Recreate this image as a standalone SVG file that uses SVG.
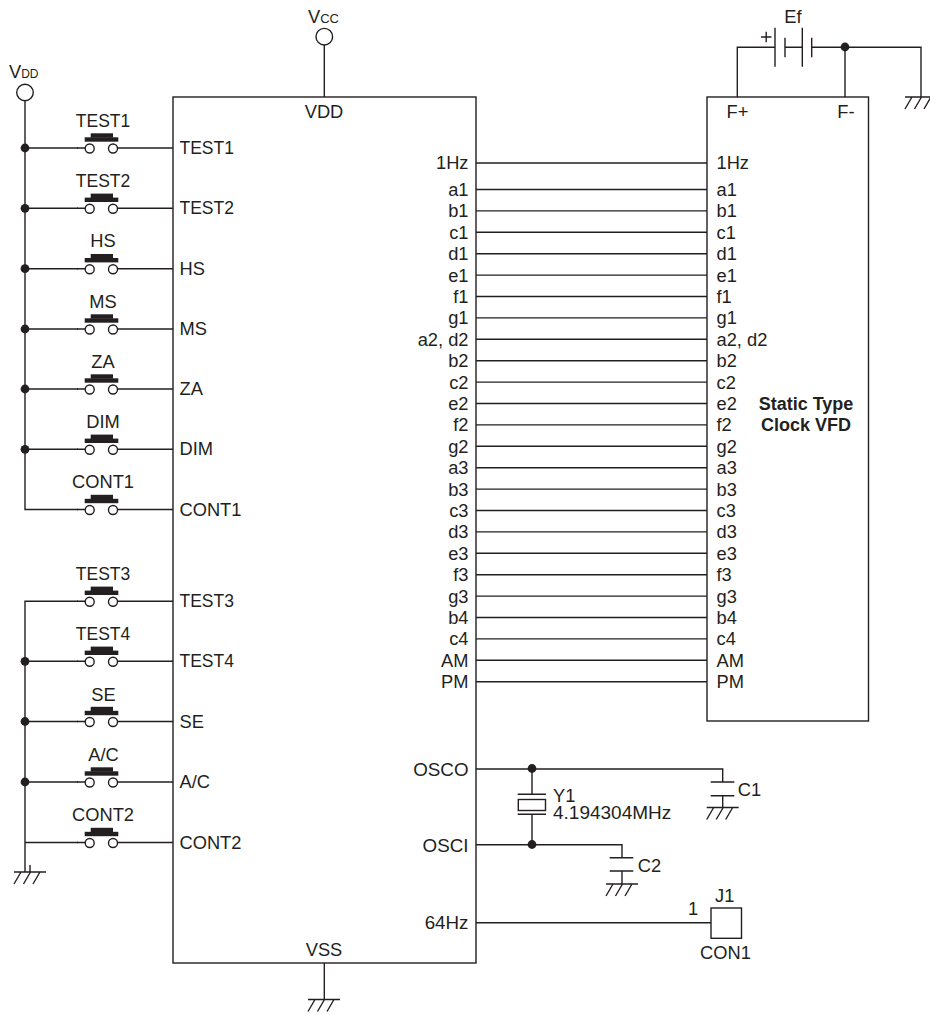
<svg xmlns="http://www.w3.org/2000/svg" width="930" height="1015" viewBox="0 0 930 1015">
<style>
text{font-family:"Liberation Sans",Arial,sans-serif;font-size:18.300px;fill:#231f20}
.e{text-anchor:end}.m{text-anchor:middle}
.b{font-weight:bold;font-size:18px}
.t{font-size:17.500px}
.l{font-size:18.800px}
.w{fill:none;stroke:#231f20;stroke-width:1.4}
.o{fill:#fff;stroke:#231f20;stroke-width:1.4}
.k{fill:#231f20}
</style>
<defs>
<g id="sw"><rect class="k" x="84.700" y="-10.700" width="33.600" height="4.400"/><rect class="k" x="90.700" y="-14.700" width="22.300" height="4.400"/><path class="w" d="M77 0H85.500M118 0H126"/><circle class="o" cx="89.700" cy="0.500" r="4.500"/><circle class="o" cx="113" cy="0.500" r="4.500"/></g>
<g id="gnd"><path class="w" d="M-16 0H16M-9 0L-16 12M0.500 0L-6.500 12M10 0L3 12"/></g>
</defs>
<rect width="930" height="1015" fill="#fff"/>
<g id="connectors">
<path class="w" d="M25 100V509.500H78M25 148H78M25 208.300H78M25 268.700H78M25 329H78M25 389H78M25 449.300H78"/>
<path class="w" d="M126 148H173M126 208.300H173M126 268.700H173M126 329H173M126 389H173M126 449.300H173M126 509.500H173"/>
<path class="w" d="M25 872V601.300H78M25 661.300H78M25 721.500H78M25 782H78M25 842.500H78M30 865V872"/>
<path class="w" d="M126 601.300H173M126 661.300H173M126 721.500H173M126 782H173M126 842.500H173"/>
<path class="w" d="M324.300 45V97M324.300 963V999.500"/>
<path class="w" d="M476 163H707M476 189.500H707M476 210.900H707M476 232.300H707M476 253.700H707M476 275.100H707M476 296.500H707M476 317.900H707M476 339.300H707M476 360.700H707M476 382.100H707M476 403.500H707M476 424.900H707M476 446.300H707M476 467.700H707M476 489.100H707M476 510.500H707M476 531.900H707M476 553.300H707M476 574.700H707M476 596.100H707M476 617.500H707M476 638.900H707M476 660.300H707M476 681.700H707"/>
<path class="w" d="M737.300 97V47.300H775M785 47.300H802M812 47.300H921V97M845 47.300V97"/>
<path class="w" d="M476 769H722.700V782M476 844.700H622V857.700M532 769V794.300M532 814.300V844.700M722.700 795.700V807.500M622 871V884M476 922.700H711"/>
<circle class="k" cx="25" cy="148" r="4.400"/><circle class="k" cx="25" cy="208.300" r="4.400"/><circle class="k" cx="25" cy="268.700" r="4.400"/><circle class="k" cx="25" cy="329" r="4.400"/><circle class="k" cx="25" cy="389" r="4.400"/><circle class="k" cx="25" cy="449.300" r="4.400"/>
<circle class="k" cx="25" cy="661.300" r="4.400"/><circle class="k" cx="25" cy="721.500" r="4.400"/><circle class="k" cx="25" cy="782" r="4.400"/>
<circle class="k" cx="845" cy="47" r="4.400"/><circle class="k" cx="532" cy="768.500" r="4.400"/><circle class="k" cx="532" cy="844.500" r="4.400"/>
</g>
<g id="vdd-source"><circle class="o" cx="25" cy="92.500" r="8.300"/><text x="9" y="78">V<tspan font-size="12">DD</tspan></text></g>
<g id="vcc-source"><circle class="o" cx="324.300" cy="36.700" r="8.300"/><text x="308" y="23">V<tspan font-size="13">CC</tspan></text></g>
<g id="ic">
<rect class="o" x="173" y="97" width="303" height="866"/>
<text class="m" x="324" y="118.300">VDD</text><text class="m" x="324" y="956">VSS</text>
<text class="t" x="179.500" y="154">TEST1</text><text class="t" x="179.500" y="214.300">TEST2</text><text x="179.500" y="274.700">HS</text><text x="179.500" y="335">MS</text><text x="179.500" y="395">ZA</text><text x="179.500" y="455.300">DIM</text><text x="179.500" y="515.700">CONT1</text>
<text class="t" x="179.500" y="606.700">TEST3</text><text class="t" x="179.500" y="667">TEST4</text><text x="179.500" y="727.800">SE</text><text x="179.500" y="788">A/C</text><text x="179.500" y="848.500">CONT2</text>
<text class="e" x="468.500" y="169.300">1Hz</text><text class="e" x="468.500" y="196">a1</text><text class="e" x="468.500" y="217.400">b1</text><text class="e" x="468.500" y="238.800">c1</text><text class="e" x="468.500" y="260.200">d1</text><text class="e" x="468.500" y="281.600">e1</text><text class="e" x="468.500" y="303">f1</text><text class="e" x="468.500" y="324.400">g1</text><text class="e" x="468.500" y="345.800">a2, d2</text><text class="e" x="468.500" y="367.200">b2</text><text class="e" x="468.500" y="388.600">c2</text><text class="e" x="468.500" y="410">e2</text><text class="e" x="468.500" y="431.400">f2</text><text class="e" x="468.500" y="452.800">g2</text><text class="e" x="468.500" y="474.200">a3</text><text class="e" x="468.500" y="495.600">b3</text><text class="e" x="468.500" y="517">c3</text><text class="e" x="468.500" y="538.400">d3</text><text class="e" x="468.500" y="559.800">e3</text><text class="e" x="468.500" y="581.200">f3</text><text class="e" x="468.500" y="602.600">g3</text><text class="e" x="468.500" y="624">b4</text><text class="e" x="468.500" y="645.400">c4</text><text class="e" x="468.500" y="666.800">AM</text><text class="e" x="468.500" y="688.200">PM</text>
<text class="e l" x="468.500" y="775.700">OSCO</text><text class="e l" x="468.500" y="851.500">OSCI</text><text class="e l" x="468.500" y="928.500">64Hz</text>
</g>
<g id="vfd">
<rect class="o" x="707" y="97" width="161.500" height="624"/>
<text x="726.500" y="117.700">F+</text><text x="837.300" y="117.700">F-</text>
<text x="716.500" y="169.300">1Hz</text><text x="716.500" y="196">a1</text><text x="716.500" y="217.400">b1</text><text x="716.500" y="238.800">c1</text><text x="716.500" y="260.200">d1</text><text x="716.500" y="281.600">e1</text><text x="716.500" y="303">f1</text><text x="716.500" y="324.400">g1</text><text x="716.500" y="345.800">a2, d2</text><text x="716.500" y="367.200">b2</text><text x="716.500" y="388.600">c2</text><text x="716.500" y="410">e2</text><text x="716.500" y="431.400">f2</text><text x="716.500" y="452.800">g2</text><text x="716.500" y="474.200">a3</text><text x="716.500" y="495.600">b3</text><text x="716.500" y="517">c3</text><text x="716.500" y="538.400">d3</text><text x="716.500" y="559.800">e3</text><text x="716.500" y="581.200">f3</text><text x="716.500" y="602.600">g3</text><text x="716.500" y="624">b4</text><text x="716.500" y="645.400">c4</text><text x="716.500" y="666.800">AM</text><text x="716.500" y="688.200">PM</text>
<text class="m b" x="806" y="409.500">Static Type</text><text class="m b" x="806" y="430.700">Clock VFD</text>
</g>
<g id="sw-test1"><use href="#sw" y="148"/><text class="m t" x="103" y="126.700">TEST1</text></g>
<g id="sw-test2"><use href="#sw" y="208.300"/><text class="m t" x="103" y="187">TEST2</text></g>
<g id="sw-hs"><use href="#sw" y="268.700"/><text class="m" x="103" y="247.400">HS</text></g>
<g id="sw-ms"><use href="#sw" y="329"/><text class="m" x="103" y="307.700">MS</text></g>
<g id="sw-za"><use href="#sw" y="389"/><text class="m" x="103" y="367.700">ZA</text></g>
<g id="sw-dim"><use href="#sw" y="449.300"/><text class="m" x="103" y="428">DIM</text></g>
<g id="sw-cont1"><use href="#sw" y="509.500"/><text class="m" x="103" y="488.200">CONT1</text></g>
<g id="sw-test3"><use href="#sw" y="601.300"/><text class="m t" x="103" y="580">TEST3</text></g>
<g id="sw-test4"><use href="#sw" y="661.300"/><text class="m t" x="103" y="640">TEST4</text></g>
<g id="sw-se"><use href="#sw" y="721.500"/><text class="m" x="103.500" y="700.500">SE</text></g>
<g id="sw-ac"><use href="#sw" y="782"/><text class="m" x="103.500" y="761">A/C</text></g>
<g id="sw-cont2"><use href="#sw" y="842.500"/><text class="m" x="103" y="821.200">CONT2</text></g>
<g id="battery-ef"><path class="w" d="M775 27.700V66.700M802.300 27.700V66.700M785 37.700V57.300M811.700 37.700V57.300M761 37H771.500M766.200 31.700V42.300"/><text class="m" x="793" y="22.700">Ef</text></g>
<g id="gnd-left"><use href="#gnd" x="30" y="872"/></g>
<g id="gnd-vss"><use href="#gnd" x="324" y="999.500"/></g>
<g id="gnd-vfd"><use href="#gnd" x="921" y="97"/></g>
<g id="y1"><path class="w" d="M517.700 794.300H546M517.700 814.300H546"/><rect class="w" x="518.300" y="799.500" width="27.200" height="11" stroke-width="1.800"/><text x="553" y="801.700" font-size="19">Y1<tspan x="553" y="819" style="font-size:19px">4.194304MHz</tspan></text></g>
<g id="c1"><path class="w" d="M710.700 782H734.300M710.700 795.700H734.300"/><use href="#gnd" x="722.700" y="807.500"/><text x="737.700" y="795.700">C1</text></g>
<g id="c2"><path class="w" d="M609.700 857.700H633.300M609.700 871H633.300"/><use href="#gnd" x="622" y="884"/><text x="637.700" y="871.700">C2</text></g>
<g id="j1"><rect class="o" x="711" y="908" width="30.500" height="30.300"/><text x="688" y="915">1</text><text class="m" x="724.700" y="902">J1</text><text class="m" x="725.500" y="958.700">CON1</text></g>
</svg>
